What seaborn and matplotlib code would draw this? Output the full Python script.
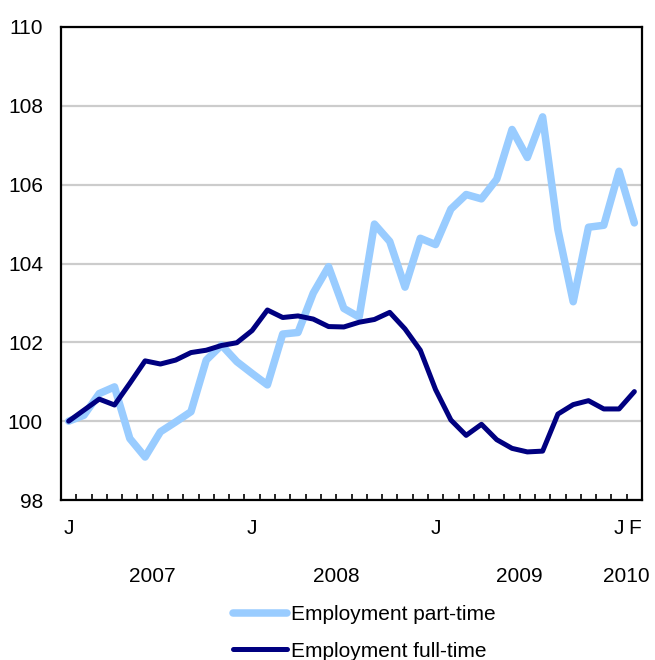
import numpy as np
import pandas as pd
import matplotlib
matplotlib.use('Agg')
from matplotlib import pyplot as plt
from matplotlib import transforms
import seaborn as sns

# monthly index, Jan 2007 = 100, Jan 2007 .. Feb 2010
months = pd.date_range('2007-01-01', '2010-02-01', freq='MS')
part_time = [100.0, 100.15, 100.7, 100.87, 99.56, 99.09, 99.73, 99.98, 100.24, 101.55,
             101.93, 101.51, 101.21, 100.92, 102.21, 102.25, 103.25, 103.92, 102.86, 102.64,
             105.0, 104.56, 103.4, 104.64, 104.48, 105.38, 105.75, 105.64, 106.14, 107.4,
             106.69, 107.72, 104.86, 103.03, 104.92, 104.97, 106.34, 105.03]
full_time = [100.0, 100.28, 100.56, 100.41, 100.96, 101.53, 101.45, 101.55, 101.74, 101.8,
             101.92, 101.99, 102.3, 102.82, 102.63, 102.67, 102.59, 102.4, 102.39, 102.51,
             102.58, 102.76, 102.34, 101.8, 100.8, 100.03, 99.64, 99.92, 99.53, 99.31,
             99.22, 99.24, 100.18, 100.42, 100.52, 100.31, 100.31, 100.75]
series_names = ['Employment part-time', 'Employment full-time']
series_colors = ['#99CCFF', '#000080']
series_widths = [5.4, 3.6]
month_letters = ['J', 'F', 'M', 'A', 'M', 'J', 'J', 'A', 'S', 'O', 'N', 'D']
y_ticks = [98, 100, 102, 104, 106, 108, 110]

df = pd.DataFrame({'pos': np.arange(len(months)),
                   'year': months.year,
                   'month': months.month,
                   series_names[0]: part_time,
                   series_names[1]: full_time})

sns.set_theme(style='white')
plt.rcParams['font.family'] = ['Liberation Sans', 'DejaVu Sans']
plt.rcParams['text.color'] = 'black'
fs = 15

fig = plt.figure(figsize=(6.55, 6.6), dpi=100)
ax = fig.add_axes([61 / 655, 1 - 500 / 660, 581 / 655, 473 / 660])

for name, color, lw in zip(series_names, series_colors, series_widths):
    sns.lineplot(data=df, x='pos', y=name, color=color, linewidth=lw, label=name,
                 ax=ax, legend=False, solid_capstyle='round', solid_joinstyle='round')

ax.set_xlim(-0.5, len(months) - 0.5)
ax.set_ylim(98, 110)
ax.set_yticks(y_ticks)
ax.set_yticklabels([str(v) for v in y_ticks], fontsize=fs, color='black')
ax.yaxis.grid(True, color='#cccccc', linewidth=1.6)
ax.set_axisbelow(True)
for side in ['left', 'bottom', 'right', 'top']:
    ax.spines[side].set_visible(True)
    ax.spines[side].set_color('black')
    ax.spines[side].set_linewidth(1.6)

# J labels at January, plus the last month
label_pos = list(df.pos[df.month == 1]) + [df.pos.iloc[-1]]
label_txt = [month_letters[m - 1] for m in df.month[df.pos.isin(label_pos)]]
ax.set_xticks(label_pos)
ax.set_xticklabels(label_txt, fontsize=fs, color='black')
ax.set_xticks(np.arange(-0.5, len(months)), minor=True)
ax.tick_params(axis='x', which='major', length=0, pad=14)
ax.tick_params(axis='x', which='minor', bottom=True, direction='in', length=4,
               width=1.2, color='black')
ax.tick_params(axis='y', length=0, pad=13)
ax.set_xlabel('')
ax.set_ylabel('')

# year labels centered under each year's months
trans = transforms.blended_transform_factory(ax.transData, ax.transAxes)
for yr, grp in df.groupby('year'):
    ax.text(grp.pos.mean(), -0.161, str(yr), transform=trans, ha='center', va='center',
            fontsize=fs, color='black')

handles = ax.get_lines()[:2]
fig.legend(handles, series_names, loc='upper left', bbox_to_anchor=(233 / 655, 1 - 605 / 660),
           frameon=False, fontsize=fs, handlelength=2.6, handletextpad=0.2,
           labelspacing=0.85, borderpad=0, borderaxespad=0)

fig.savefig('out.png', dpi=100)
